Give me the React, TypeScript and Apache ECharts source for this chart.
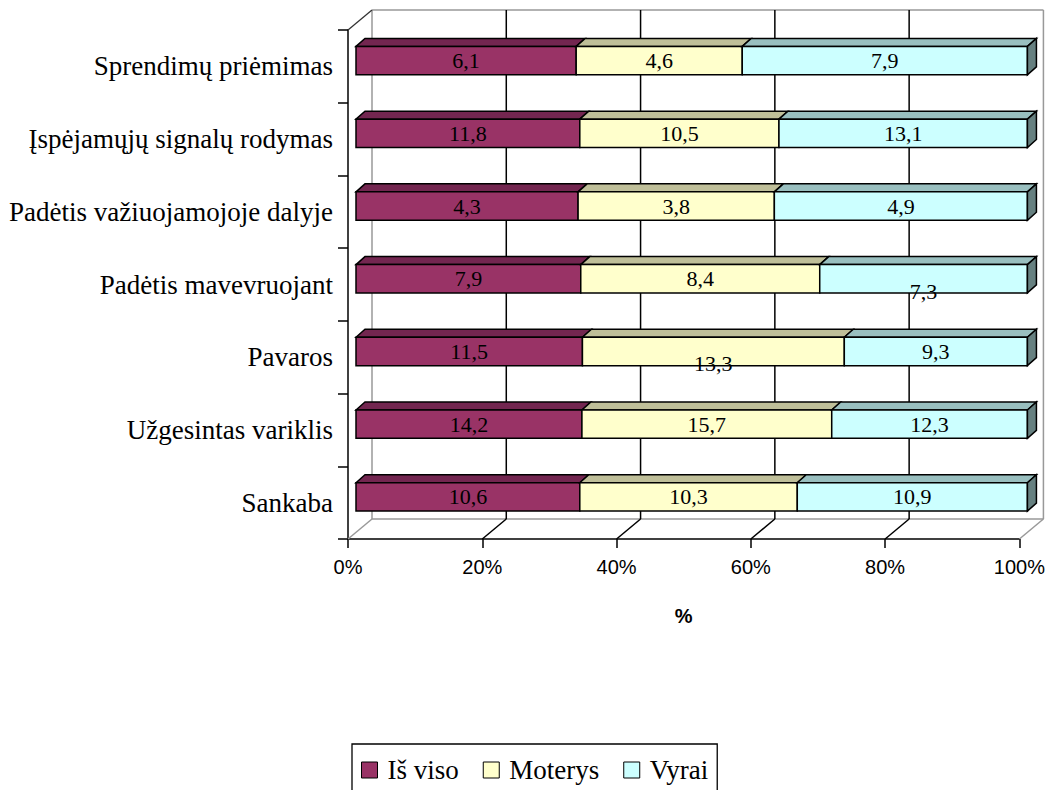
import React, { useEffect, useRef } from "react";
import * as echarts from "echarts";

const CATEGORIES = [
  "Sprendimų priėmimas",
  "Įspėjamųjų signalų rodymas",
  "Padėtis važiuojamojoje dalyje",
  "Padėtis mavevruojant",
  "Pavaros",
  "Užgesintas variklis",
  "Sankaba",
];
const SERIES_NAMES = ["Iš viso", "Moterys", "Vyrai"];
const IS_VISO = [6.1, 11.8, 4.3, 7.9, 11.5, 14.2, 10.6];
const MOTERYS = [4.6, 10.5, 3.8, 8.4, 13.3, 15.7, 10.3];
const VYRAI = [7.9, 13.1, 4.9, 7.3, 9.3, 12.3, 10.9];
const X_TICKS = [0, 20, 40, 60, 80, 100];

// styling (not data)
const FRONT = ["#993366", "#FFFFCC", "#CCFFFF"];
const TOP = ["#732650", "#BFBF99", "#99BFBF"];
const SIDE = "#668080";
const SERIF = "'Liberation Serif', 'Times New Roman', serif";
const SANS = "'Liberation Sans', Arial, sans-serif";
const DEPTH_X = 24;
const DEPTH_Y = -20;
const FRONT_SHIFT_X = 8;
const BAR_DX = 9;
const BAR_DY = -8;
// Excel placed two labels lower than the rest
const LABEL_DROP: Record<string, number> = {
  "3|2": 13,
  "4|1": 12,
};

const fmt = (v: number) => v.toFixed(1).replace(".", ",");

export default function App() {
  const ref = useRef<HTMLDivElement>(null);

  useEffect(() => {
    if (!ref.current) return;
    const chart = echarts.init(ref.current, undefined, { renderer: "svg" });
    const raw = [IS_VISO, MOTERYS, VYRAI];
    const totals = CATEGORIES.map((_, i) => raw.reduce((s, arr) => s + arr[i], 0));

    const barSeries = raw.map((arr, si) => {
      const data = arr.map((v, ci) => {
        let start = 0;
        for (let k = 0; k < si; k++) start += (raw[k][ci] / totals[ci]) * 100;
        const end = start + (v / totals[ci]) * 100;
        return [start, end, ci, v];
      });
      return {
        type: "custom",
        name: SERIES_NAMES[si],
        coordinateSystem: "cartesian2d",
        itemStyle: { color: FRONT[si] },
        encode: { x: [0, 1], y: 2 },
        z: 3 + si,
        data,
        renderItem: (params: any, api: any) => {
          const s0 = api.value(0);
          const s1 = api.value(1);
          const ci = api.value(2);
          const val = api.value(3);
          const a = api.coord([s0, ci]);
          const b = api.coord([s1, ci]);
          const band = api.size([0, 1])[1];
          const h = band * 0.39;
          const cy = a[1] - band * 0.079;
          const x0 = a[0] + FRONT_SHIFT_X;
          const x1 = b[0] + FRONT_SHIFT_X;
          const yT = cy - h / 2;
          const yB = cy + h / 2;
          const stroke = { stroke: "#000", lineWidth: 1.5, lineJoin: "miter" };
          const children: any[] = [
            {
              type: "polygon",
              shape: { points: [[x0, yT], [x0 + BAR_DX, yT + BAR_DY], [x1 + BAR_DX, yT + BAR_DY], [x1, yT]] },
              style: { fill: TOP[si], ...stroke },
            },
            {
              type: "polygon",
              shape: { points: [[x0, yT], [x1, yT], [x1, yB], [x0, yB]] },
              style: { fill: FRONT[si], ...stroke },
            },
          ];
          if (si === raw.length - 1) {
            children.push({
              type: "polygon",
              shape: { points: [[x1, yT], [x1 + BAR_DX, yT + BAR_DY], [x1 + BAR_DX, yB + BAR_DY], [x1, yB]] },
              style: { fill: SIDE, ...stroke },
            });
          }
          const drop = LABEL_DROP[`${ci}|${si}`] || 0;
          children.push({
            type: "text",
            x: (x0 + x1) / 2,
            y: cy + drop,
            style: {
              text: fmt(val),
              fill: "#000",
              font: `22px ${SERIF}`,
              align: "center",
              verticalAlign: "middle",
            },
          });
          return { type: "group", children };
        },
      };
    });

    const wallSeries = {
      type: "custom",
      name: "walls",
      coordinateSystem: "cartesian2d",
      encode: { x: 0, y: 1 },
      z: 1,
      silent: true,
      data: X_TICKS.map((t) => [t, 0]),
      renderItem: (params: any, api: any) => {
        const t = api.value(0);
        const cs = params.coordSys;
        const top = cs.y;
        const bottom = cs.y + cs.height;
        const p = api.coord([t, 0]);
        const x = p[0];
        const edge = t === X_TICKS[0] || t === X_TICKS[X_TICKS.length - 1];
        const color = edge ? "#999999" : "#000000";
        const children: any[] = [
          {
            type: "line",
            shape: { x1: x + DEPTH_X, y1: top + DEPTH_Y, x2: x + DEPTH_X, y2: bottom + DEPTH_Y },
            style: { stroke: color, lineWidth: 1.5 },
          },
          {
            type: "line",
            shape: { x1: x, y1: bottom, x2: x + DEPTH_X, y2: bottom + DEPTH_Y },
            style: { stroke: color, lineWidth: 1.5 },
          },
        ];
        if (t === X_TICKS[0]) {
          const r = api.coord([X_TICKS[X_TICKS.length - 1], 0])[0];
          children.push(
            {
              type: "line",
              shape: { x1: x + DEPTH_X, y1: top + DEPTH_Y, x2: r + DEPTH_X, y2: top + DEPTH_Y },
              style: { stroke: "#999999", lineWidth: 1.5 },
            },
            {
              type: "line",
              shape: { x1: x + DEPTH_X, y1: bottom + DEPTH_Y, x2: r + DEPTH_X, y2: bottom + DEPTH_Y },
              style: { stroke: "#999999", lineWidth: 1.5 },
            },
            {
              type: "line",
              shape: { x1: x, y1: top, x2: x + DEPTH_X, y2: top + DEPTH_Y },
              style: { stroke: "#333333", lineWidth: 1.3 },
            }
          );
        }
        return { type: "group", children };
      },
    };

    chart.setOption({
      animation: false,
      backgroundColor: "#ffffff",
      grid: { left: 348, top: 30, width: 672, height: 509, containLabel: false },
      xAxis: {
        type: "value",
        min: 0,
        max: 100,
        interval: 20,
        name: "%",
        nameLocation: "middle",
        nameGap: 67,
        nameTextStyle: { fontFamily: SANS, fontSize: 20, fontWeight: "bold", color: "#000" },
        axisLine: { show: true, lineStyle: { color: "#000", width: 1.5 } },
        axisTick: { show: true, length: 9, lineStyle: { color: "#000", width: 1.5 } },
        axisLabel: { formatter: "{value}%", fontFamily: SANS, fontSize: 20, color: "#000", margin: 18 },
        splitLine: { show: false },
      },
      yAxis: {
        type: "category",
        data: CATEGORIES,
        inverse: true,
        axisLine: { show: true, lineStyle: { color: "#000", width: 1.5 } },
        axisTick: { show: true, length: 10, lineStyle: { color: "#000", width: 1.5 } },
        axisLabel: { fontFamily: SERIF, fontSize: 27, color: "#000", margin: 15 },
        splitLine: { show: false },
      },
      legend: {
        data: SERIES_NAMES,
        left: 352,
        top: 744,
        orient: "horizontal",
        icon: "rect",
        itemWidth: 16,
        itemHeight: 16,
        itemGap: 24,
        padding: [11, 9, 10, 9],
        borderColor: "#000",
        borderWidth: 1.3,
        borderRadius: 0,
        itemStyle: { borderColor: "#000", borderWidth: 1 },
        textStyle: { fontFamily: SERIF, fontSize: 27, color: "#000", lineHeight: 30, padding: [0, 0, 0, 5] },
        selectedMode: false,
      },
      series: [wallSeries, ...barSeries],
    });
    return () => chart.dispose();
  }, []);

  return (
    <div
      ref={ref}
      style={{ position: "fixed", left: 0, top: 0, width: 1048, height: 790, background: "#fff" }}
    />
  );
}
